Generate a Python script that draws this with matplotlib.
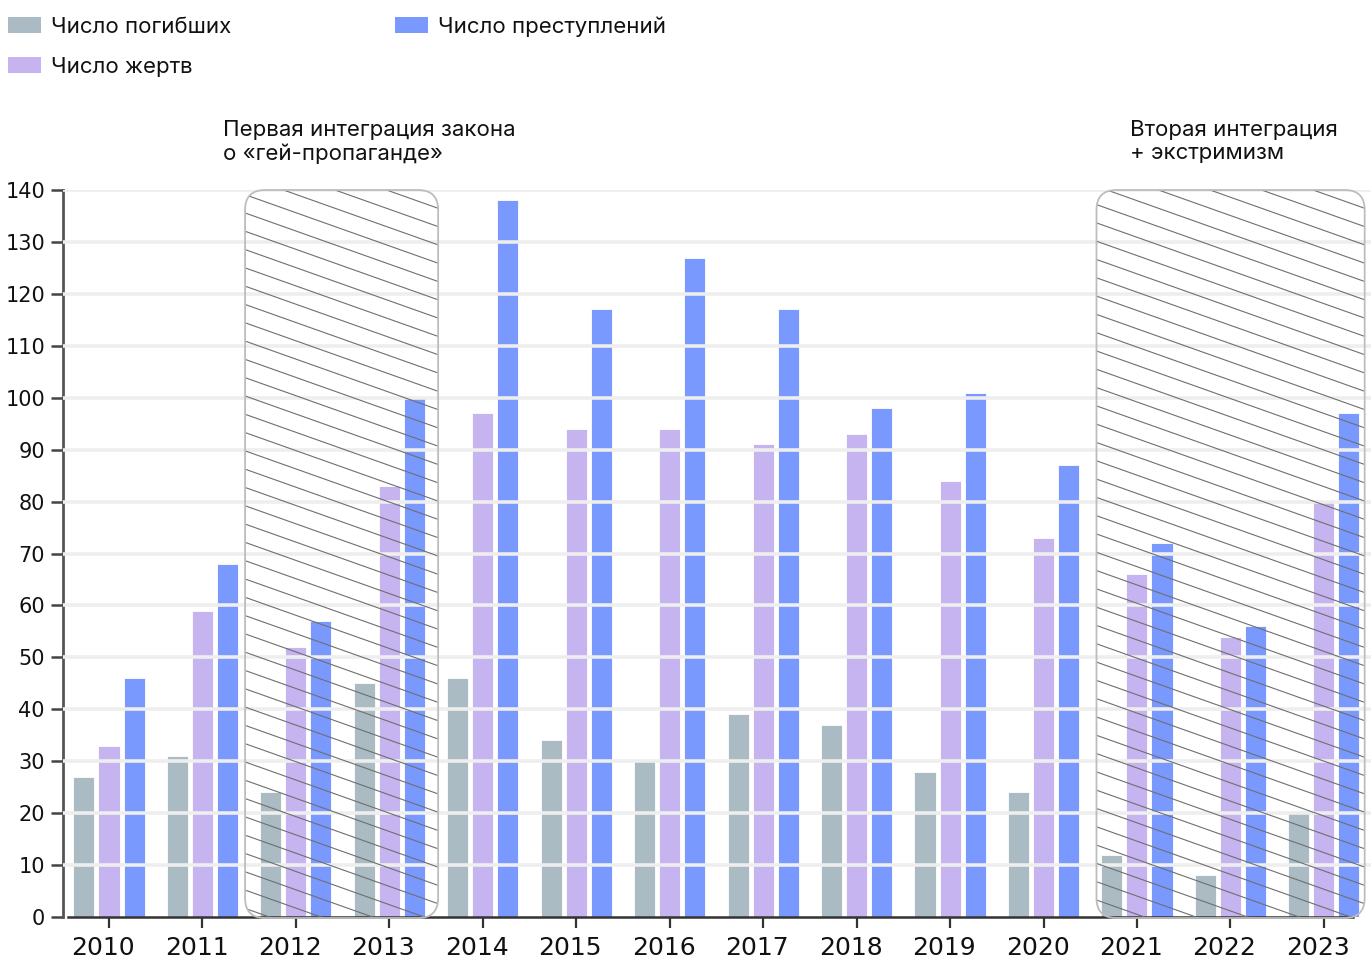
import matplotlib
matplotlib.use("Agg")
import matplotlib.pyplot as plt
import numpy as np
from matplotlib.patches import FancyBboxPatch, Rectangle
from matplotlib.collections import LineCollection
from matplotlib.transforms import IdentityTransform, ScaledTranslation

# ---------------- data ----------------
years = [2010, 2011, 2012, 2013, 2014, 2015, 2016, 2017, 2018, 2019, 2020, 2021, 2022, 2023]
killed = [27, 31, 24, 45, 46, 34, 30, 39, 37, 28, 24, 12, 8, 20]
victims = [33, 59, 52, 83, 97, 94, 94, 91, 93, 84, 73, 66, 54, 80]
crimes = [46, 68, 57, 100, 138, 117, 127, 117, 98, 101, 87, 72, 56, 97]
series_labels = ["Число погибших", "Число жертв", "Число преступлений"]
y_ticks = list(range(0, 141, 10))
period_spans = [(2012, 2013), (2021, 2023)]
period_labels = ["Первая интеграция закона\nо «гей-пропаганде»",
                 "Вторая интеграция\n+ экстримизм"]

# ---------------- style ----------------
C_GREY = "#aabbc3"
C_LAV = "#c5b4f0"
C_BLUE = "#7a99ff"
colors = [C_GREY, C_LAV, C_BLUE]
TEXT_FONT = ["Inter", "DejaVu Sans"]
NUM_FONT = ["DejaVu Sans"]

W, H = 1371, 958
fig = plt.figure(figsize=(W / 100, H / 100), dpi=100)
fig.patch.set_facecolor("white")

def fx(px):
    return px / W

def fy(py):
    return 1 - py / H

ax_left, ax_right, ax_top, ax_bot = 63, 1371, 190, 917
ax = fig.add_axes([fx(ax_left), fy(ax_bot), (ax_right - ax_left) / W, (ax_bot - ax_top) / H])

x = np.arange(len(years))
bw = 0.225
off = 0.268
for i, (vals, col) in enumerate(zip([killed, victims, crimes], colors)):
    ax.bar(x + (i - 1) * off, vals, width=bw, color=col, edgecolor="white",
           linewidth=0.6, zorder=2)

ax.set_ylim(0, 140)
spacing_px = 93.45
xmin = -(109 - ax_left) / spacing_px
xmax = xmin + (ax_right - ax_left) / spacing_px
ax.set_xlim(xmin, xmax)

ax.set_yticks(y_ticks)
ax.set_yticklabels([str(v) for v in y_ticks], fontfamily=NUM_FONT, fontsize=15)
ax.set_xticks(x)
ax.set_xticklabels([str(y) for y in years], fontfamily=NUM_FONT, fontsize=18)
ax.tick_params(axis="y", length=9, width=1.8, color="#444444", pad=4, labelcolor="#111111")
ax.tick_params(axis="x", length=8, width=1.6, color="#333333", pad=6, labelcolor="#111111")
shift = ScaledTranslation(-6 / 100, 0, fig.dpi_scale_trans)
for lbl in ax.get_xticklabels():
    lbl.set_transform(lbl.get_transform() + shift)

for s in ["top", "right"]:
    ax.spines[s].set_visible(False)
ax.spines["left"].set_color("#555555")
ax.spines["left"].set_linewidth(2)
ax.spines["bottom"].set_color("#333333")
ax.spines["bottom"].set_linewidth(1.8)
ax.spines["bottom"].set_bounds((68 - 109) / spacing_px, (1353 - 109) / spacing_px)

# grid lines drawn over the bars
for v in y_ticks[1:]:
    ax.axhline(v, color="#eeeeee", linewidth=2.6, zorder=3)

fig.canvas.draw()

# ---------------- hatched period boxes ----------------
pads = [(0.544, 0.522), (0.433, 0.437)]
for (y0, y1), (pl, pr) in zip(period_spans, pads):
    i0 = years.index(y0)
    i1 = years.index(y1)
    (dx0, dy0) = ax.transData.transform((i0 - pl, 0))
    (dx1, dy1) = ax.transData.transform((i1 + pr, 140))
    dy0 -= 1
    box = FancyBboxPatch((dx0, dy0), dx1 - dx0, dy1 - dy0,
                         boxstyle="round,pad=0,rounding_size=20",
                         transform=IdentityTransform(), facecolor="none",
                         edgecolor="#bdbdbd", linewidth=1.3, zorder=5)
    fig.add_artist(box)
    clip = FancyBboxPatch((dx0, dy0), dx1 - dx0, dy1 - dy0,
                          boxstyle="round,pad=0,rounding_size=20",
                          transform=IdentityTransform(), facecolor="none",
                          edgecolor="none")
    slope = 0.355
    gap = 18.3
    segs = []
    width = dx1 - dx0
    yy = dy1 + slope * width + gap
    while yy > dy0 - gap:
        segs.append([(dx0, yy), (dx1, yy - slope * width)])
        yy -= gap
    lc = LineCollection(segs, colors="#6f6f6f", linewidths=0.8,
                        transform=IdentityTransform(), zorder=4)
    lc.set_clip_path(clip)
    fig.add_artist(lc)

# ---------------- annotations ----------------
for xpix, lab in zip([223, 1130], period_labels):
    fig.text(fx(xpix), fy(120), lab, fontfamily=TEXT_FONT, fontsize=16,
             color="#111111", va="top", ha="left", linespacing=1.2)

# ---------------- legend ----------------
legend_pos = [(8, 17), (8, 57), (395, 17)]
for (lx, ly), col, lab in zip(legend_pos, colors, series_labels):
    fig.add_artist(Rectangle((fx(lx), fy(ly + 16)), 33 / W, 16 / H,
                             transform=fig.transFigure, facecolor=col,
                             edgecolor="none"))
    fig.text(fx(lx + 43), fy(ly + 8), lab, fontfamily=TEXT_FONT, fontsize=16,
             color="#111111", va="center_baseline", ha="left")

fig.savefig("out.png", dpi=100, facecolor="white")
